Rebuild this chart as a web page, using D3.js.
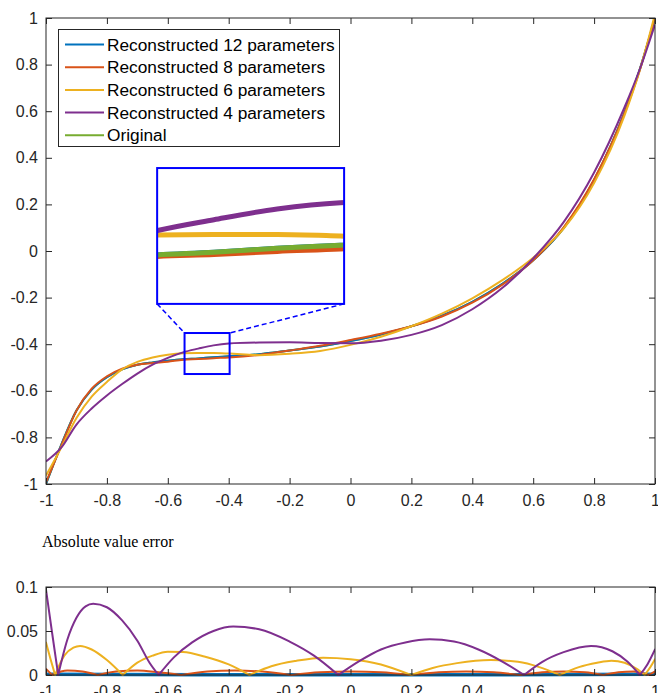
<!DOCTYPE html>
<html>
<head>
<meta charset="utf-8">
<script src="https://cdn.jsdelivr.net/npm/d3@7"></script>
<style>
  body { margin: 0; background: #fff; }
  svg { display: block; font-family: "Liberation Sans", Arial, sans-serif; }
  .axis text { font-size: 16px; fill: #262626; }
  .axis line { stroke: #262626; }
</style>
</head>
<body>
<div id="chart_container"></div>
<script>
// x positions the curves were read at
const xVals = [-1, -0.95, -0.9, -0.85, -0.8, -0.75, -0.7, -0.65, -0.6, -0.55, -0.5, -0.45, -0.4,
    -0.3, -0.2, -0.1, 0, 0.1, 0.2, 0.3, 0.4, 0.5, 0.6, 0.7, 0.8, 0.9, 0.95, 1];

const original = [-1, -0.832, -0.685, -0.595, -0.542, -0.508, -0.488, -0.478, -0.471, -0.465, -0.461, -0.456, -0.452,
    -0.443, -0.427, -0.41, -0.386, -0.358, -0.323, -0.278, -0.218, -0.14, -0.04, 0.098, 0.305, 0.595, 0.78, 1];
const recon12 = [-1, -0.832, -0.685, -0.595, -0.542, -0.508, -0.488, -0.478, -0.471, -0.465, -0.461, -0.456, -0.452,
    -0.443, -0.427, -0.41, -0.386, -0.358, -0.323, -0.278, -0.218, -0.14, -0.04, 0.098, 0.305, 0.595, 0.78, 1];
const recon8 = [-0.993, -0.836, -0.685, -0.591, -0.538, -0.505, -0.488, -0.481, -0.475, -0.467, -0.464, -0.46, -0.457,
    -0.446, -0.427, -0.407, -0.382, -0.355, -0.323, -0.281, -0.222, -0.143, -0.04, 0.102, 0.308, 0.592, 0.776, 1.004];
const recon6 = [-0.964, -0.844, -0.717, -0.625, -0.562, -0.508, -0.476, -0.457, -0.445, -0.439, -0.438, -0.438, -0.44,
    -0.447, -0.441, -0.429, -0.403, -0.368, -0.323, -0.269, -0.203, -0.124, -0.029, 0.096, 0.292, 0.582, 0.776, 1.017];
const recon4 = [-0.903, -0.844, -0.745, -0.676, -0.62, -0.571, -0.526, -0.488, -0.459, -0.435, -0.419, -0.405, -0.397,
    -0.393, -0.392, -0.395, -0.396, -0.385, -0.36, -0.318, -0.25, -0.157, -0.032, 0.124, 0.337, 0.617, 0.78, 0.972];

// absolute error curves (bottom panel)
const err4X = [-1, -0.98, -0.96, -0.93, -0.9, -0.87, -0.845, -0.8, -0.75, -0.7, -0.66, -0.63, -0.58, -0.52, -0.45,
    -0.385, -0.3, -0.2, -0.12, -0.04, 0.03, 0.1, 0.18, 0.26, 0.34, 0.42, 0.5, 0.57, 0.63, 0.7, 0.79, 0.86, 0.91, 0.95, 0.975, 1];
const err4 = [0.097, 0.048, 0, 0.04, 0.065, 0.078, 0.081, 0.077, 0.062, 0.039, 0.014, 0, 0.02, 0.037, 0.05,
    0.055, 0.052, 0.038, 0.022, 0, 0.016, 0.029, 0.037, 0.0405, 0.038, 0.029, 0.015, 0, 0.015, 0.026, 0.033, 0.027, 0.015, 0, 0.012, 0.029];
const err6X = [-1, -0.985, -0.97, -0.94, -0.91, -0.888, -0.85, -0.8, -0.748, -0.7, -0.65, -0.6, -0.55, -0.48, -0.4,
    -0.332, -0.26, -0.18, -0.09, 0, 0.1, 0.199, 0.27, 0.35, 0.46, 0.55, 0.62, 0.687, 0.75, 0.81, 0.857, 0.9, 0.94, 0.966, 0.985, 1];
const err6 = [0.037, 0.018, 0, 0.022, 0.031, 0.033, 0.029, 0.017, 0, 0.014, 0.022, 0.0265, 0.026, 0.021, 0.012,
    0, 0.01, 0.016, 0.0197, 0.018, 0.012, 0, 0.008, 0.0135, 0.017, 0.015, 0.009, 0, 0.009, 0.014, 0.0163, 0.014, 0.007, 0, 0.009, 0.0178];
const err8X = [-1, -0.98, -0.93, -0.88, -0.83, -0.77, -0.7, -0.63, -0.556, -0.47, -0.38, -0.29, -0.195, -0.1, 0,
    0.1, 0.195, 0.29, 0.38, 0.47, 0.556, 0.63, 0.7, 0.77, 0.83, 0.88, 0.93, 0.98, 1];
const err8 = [0.007, 0, 0.005, 0.004, 0, 0.004, 0.005, 0.003, 0, 0.004, 0.005, 0.004, 0, 0.003, 0.004,
    0.003, 0, 0.003, 0.004, 0.003, 0, 0.003, 0.004, 0.003, 0, 0.003, 0.004, 0, 0.004];
const err12X = [-1, -0.5, 0, 0.5, 1];
const err12 = [0.0008, 0.0004, 0.0004, 0.0004, 0.0008];

// ticks
const xTicks = [-1, -0.8, -0.6, -0.4, -0.2, 0, 0.2, 0.4, 0.6, 0.8, 1];
const xTickLabels = ["-1", "-0.8", "-0.6", "-0.4", "-0.2", "0", "0.2", "0.4", "0.6", "0.8", "1"];
const yTicks = [-1, -0.8, -0.6, -0.4, -0.2, 0, 0.2, 0.4, 0.6, 0.8, 1];
const yTickLabels = ["-1", "-0.8", "-0.6", "-0.4", "-0.2", "0", "0.2", "0.4", "0.6", "0.8", "1"];
const errTicks = [0, 0.05, 0.1];
const errTickLabels = ["0", "0.05", "0.1"];

const legendNames = ["Reconstructed 12 parameters", "Reconstructed 8 parameters",
    "Reconstructed 6 parameters", "Reconstructed 4 parameters", "Original"];

// zoomed region and where the inset sits (main-axis data units)
const zoomX = [-0.545, -0.397];
const zoomY = [-0.528, -0.352];
const insetBox = {x0: -0.635, x1: -0.021, y0: -0.227, y1: 0.356};

const colors = {c12: "#0072BD", c8: "#D95319", c6: "#EDB120", c4: "#7E2F8E", orig: "#77AC30"};

const w = 658, h = 693;
const main = {left: 46, right: 655, top: 18, bottom: 484};
const errBox = {top: 587, bottom: 675};

const svg = d3.select("#chart_container").append("svg")
    .attr("width", w)
    .attr("height", h);

const x = d3.scaleLinear().domain([-1, 1]).range([main.left, main.right]);
const y = d3.scaleLinear().domain([-1, 1]).range([main.bottom, main.top]);
const yErr = d3.scaleLinear().domain([0, 0.1]).range([errBox.bottom, errBox.top]);

// draws box axes in matlab style (ticks inside on all four sides)
function drawAxes(g, xs, ys, yt, ytl, top, bottom) {
    g.append("g").attr("class", "axis")
        .attr("transform", "translate(0," + bottom + ")")
        .call(d3.axisBottom(xs).tickValues(xTicks).tickFormat((d, i) => xTickLabels[i])
            .tickSizeInner(-6).tickSizeOuter(0).tickPadding(11))
        .call(a => a.select(".domain").remove());
    g.append("g").attr("class", "axis")
        .attr("transform", "translate(0," + top + ")")
        .call(d3.axisTop(xs).tickValues(xTicks).tickFormat("")
            .tickSizeInner(-6).tickSizeOuter(0))
        .call(a => a.select(".domain").remove());
    g.append("g").attr("class", "axis")
        .attr("transform", "translate(" + main.left + ",0)")
        .call(d3.axisLeft(ys).tickValues(yt).tickFormat((d, i) => ytl[i])
            .tickSizeInner(-6).tickSizeOuter(0).tickPadding(8))
        .call(a => a.select(".domain").remove());
    g.append("g").attr("class", "axis")
        .attr("transform", "translate(" + main.right + ",0)")
        .call(d3.axisRight(ys).tickValues(yt).tickFormat("")
            .tickSizeInner(-6).tickSizeOuter(0))
        .call(a => a.select(".domain").remove());
    g.append("rect")
        .attr("x", main.left).attr("y", top)
        .attr("width", main.right - main.left).attr("height", bottom - top)
        .attr("fill", "none").attr("stroke", "#262626").attr("stroke-width", 1);
}

// clip paths
const defs = svg.append("defs");
defs.append("clipPath").attr("id", "clipMain").append("rect")
    .attr("x", main.left).attr("y", main.top)
    .attr("width", main.right - main.left).attr("height", main.bottom - main.top);
defs.append("clipPath").attr("id", "clipErr").append("rect")
    .attr("x", main.left).attr("y", errBox.top - 2)
    .attr("width", main.right - main.left).attr("height", errBox.bottom - errBox.top + 4);

// main curves
const series = [
    {vals: original, color: colors.orig},
    {vals: recon12, color: colors.c12},
    {vals: recon8, color: colors.c8},
    {vals: recon6, color: colors.c6},
    {vals: recon4, color: colors.c4}
];

const line = d3.line()
    .x((d, i) => x(xVals[i]))
    .y(d => y(d))
    .curve(d3.curveMonotoneX);

const mainG = svg.append("g").attr("clip-path", "url(#clipMain)");
mainG.selectAll("path")
    .data(series)
    .enter()
    .append("path")
    .attr("d", d => line(d.vals))
    .attr("fill", "none")
    .attr("stroke", d => d.color)
    .attr("stroke-width", 2);

drawAxes(svg, x, y, yTicks, yTickLabels, main.top, main.bottom);

// zoom box and connectors
const zx0 = x(zoomX[0]), zx1 = x(zoomX[1]), zy0 = y(zoomY[1]), zy1 = y(zoomY[0]);
const ix0 = x(insetBox.x0), ix1 = x(insetBox.x1), iy0 = y(insetBox.y1), iy1 = y(insetBox.y0);

svg.append("line").attr("x1", ix0).attr("y1", iy1).attr("x2", zx0).attr("y2", zy0)
    .attr("stroke", "#0000FF").attr("stroke-width", 1.5).attr("stroke-dasharray", "5,3");
svg.append("line").attr("x1", ix1).attr("y1", iy1).attr("x2", zx1).attr("y2", zy0)
    .attr("stroke", "#0000FF").attr("stroke-width", 1.5).attr("stroke-dasharray", "5,3");
svg.append("rect")
    .attr("x", zx0).attr("y", zy0).attr("width", zx1 - zx0).attr("height", zy1 - zy0)
    .attr("fill", "none").attr("stroke", "#0000FF").attr("stroke-width", 2);

// inset
const ix = d3.scaleLinear().domain(zoomX).range([ix0, ix1]);
const iy = d3.scaleLinear().domain(zoomY).range([iy1, iy0]);
defs.append("clipPath").attr("id", "clipInset").append("rect")
    .attr("x", ix0).attr("y", iy0).attr("width", ix1 - ix0).attr("height", iy1 - iy0);

svg.append("rect")
    .attr("x", ix0).attr("y", iy0).attr("width", ix1 - ix0).attr("height", iy1 - iy0)
    .attr("fill", "#fff");

const insetLine = d3.line()
    .x((d, i) => ix(xVals[i]))
    .y(d => iy(d))
    .curve(d3.curveMonotoneX);

const insetSeries = [
    {vals: recon12, color: colors.c12},
    {vals: recon8, color: colors.c8},
    {vals: original, color: colors.orig},
    {vals: recon6, color: colors.c6},
    {vals: recon4, color: colors.c4}
];
svg.append("g").attr("clip-path", "url(#clipInset)")
    .selectAll("path")
    .data(insetSeries)
    .enter()
    .append("path")
    .attr("d", d => insetLine(d.vals))
    .attr("fill", "none")
    .attr("stroke", d => d.color)
    .attr("stroke-width", 5);

svg.append("rect")
    .attr("x", ix0).attr("y", iy0).attr("width", ix1 - ix0).attr("height", iy1 - iy0)
    .attr("fill", "none").attr("stroke", "#0000FF").attr("stroke-width", 2);

// legend
const legend = svg.append("g");
legend.append("rect")
    .attr("x", 58.5).attr("y", 29.5).attr("width", 281).attr("height", 117)
    .attr("fill", "#fff").attr("stroke", "#262626").attr("stroke-width", 1);
const legendColors = [colors.c12, colors.c8, colors.c6, colors.c4, colors.orig];
legendNames.forEach((name, i) => {
    const ly = 44.5 + i * 22.7;
    legend.append("line")
        .attr("x1", 65).attr("x2", 104).attr("y1", ly).attr("y2", ly)
        .attr("stroke", legendColors[i]).attr("stroke-width", 2);
    legend.append("text")
        .attr("x", 107).attr("y", ly).attr("dy", "0.35em")
        .attr("font-size", "17.3px").attr("fill", "#000")
        .text(name);
});

// bottom panel: absolute error
svg.append("text")
    .attr("x", 42).attr("y", 547)
    .attr("font-family", "'Liberation Serif', 'Times New Roman', serif")
    .attr("font-size", "16px").attr("fill", "#000")
    .text("Absolute value error");

// split an error curve at its zeros so each arch is smooth and the cusps stay sharp
function arches(xs, ys) {
    const segs = [];
    let cur = [];
    xs.forEach((xv, i) => {
        cur.push([xv, ys[i]]);
        if (ys[i] === 0 && cur.length > 1) {
            segs.push(cur);
            cur = [[xv, 0]];
        }
    });
    if (cur.length > 1) segs.push(cur);
    return segs;
}

const errLine = d3.line()
    .x(d => x(d[0]))
    .y(d => yErr(d[1]))
    .curve(d3.curveMonotoneX);

const errSeries = [
    {xs: err12X, ys: err12, color: colors.c12, width: 3.5},
    {xs: err8X, ys: err8, color: colors.c8, width: 2},
    {xs: err6X, ys: err6, color: colors.c6, width: 2},
    {xs: err4X, ys: err4, color: colors.c4, width: 2}
];

const errG = svg.append("g").attr("clip-path", "url(#clipErr)");
errSeries.forEach(s => {
    errG.append("path")
        .attr("d", arches(s.xs, s.ys).map(seg => errLine(seg)).join(""))
        .attr("fill", "none")
        .attr("stroke", s.color)
        .attr("stroke-width", s.width)
        .attr("stroke-linejoin", "round")
        .attr("stroke-linecap", "round");
});

drawAxes(svg, x, yErr, errTicks, errTickLabels, errBox.top, errBox.bottom);
</script>
</body>
</html>
